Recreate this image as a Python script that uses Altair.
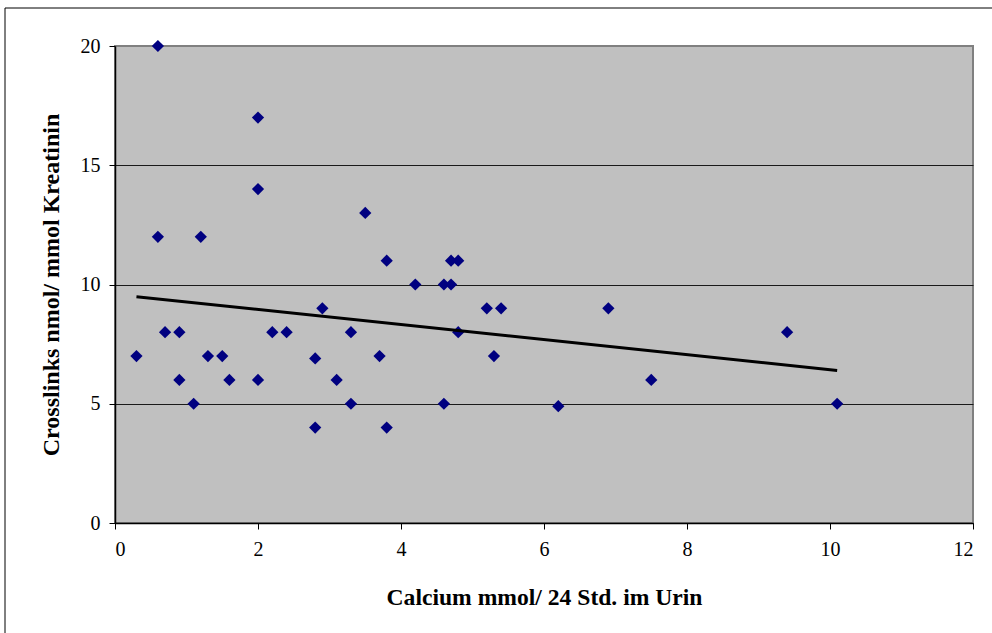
import altair as alt
import pandas as pd

calcium = [0.3, 0.6, 0.6, 0.7, 0.9, 0.9, 1.1, 1.2, 1.3, 1.5, 1.6, 2.0, 2.0, 2.0,
           2.2, 2.4, 2.8, 2.8, 2.9, 3.1, 3.3, 3.3, 3.5, 3.7, 3.8, 3.8, 4.2, 4.6,
           4.6, 4.7, 4.8, 4.7, 4.8, 5.2, 5.4, 5.3, 6.2, 6.9, 7.5, 9.4, 10.1]
crosslinks = [7, 20, 12, 8, 8, 6, 5, 12, 7, 7, 6, 17, 14, 6,
              8, 8, 6.9, 4, 9, 6, 8, 5, 13, 7, 11, 4, 10, 10,
              5, 11, 11, 10, 8, 9, 9, 7, 4.9, 9, 6, 8, 5]
x_ticks = [0, 2, 4, 6, 8, 10, 12]
y_ticks = [0, 5, 10, 15, 20]

df = pd.DataFrame({"x": calcium, "y": crosslinks})

FONT = "Liberation Serif"

xenc = alt.X("x:Q", scale=alt.Scale(domain=[0, 12], nice=False),
             axis=alt.Axis(values=x_ticks, format="d",
                           title="Calcium mmol/ 24 Std. im Urin",
                           titleFontSize=23.6,
                           grid=False, titlePadding=26, labelPadding=10))
yenc = alt.Y("y:Q", scale=alt.Scale(domain=[0, 20], nice=False),
             axis=alt.Axis(values=y_ticks, format="d",
                           title="Crosslinks nmol/ mmol Kreatinin",
                           titleFontSize=24,
                           grid=True, titlePadding=17, labelPadding=9,
                           gridColor=alt.condition(alt.datum.value == 20,
                                                   alt.value("#808080"),
                                                   alt.value("#1a1a1a"))))

base = alt.Chart(df)

frame = alt.Chart(pd.DataFrame({"a": [0]})).mark_rect(
    fillOpacity=0, stroke="black", strokeWidth=1
).encode(x=alt.value(-110), x2=alt.value(900), y=alt.value(-38), y2=alt.value(620))

points = base.mark_point(shape="diamond", filled=True, color="#000080",
                         size=150, opacity=1).encode(x=xenc, y=yenc)

trend = base.transform_regression("x", "y").mark_line(
    color="black", strokeWidth=3).encode(x="x:Q", y="y:Q")

chart = alt.layer(frame, points, trend).properties(
    width=858, height=477,
    autosize=alt.AutoSizeParams(type="none"),
    padding={"left": 115, "top": 46, "right": 19, "bottom": 110},
    background="white",
).configure_view(
    fill="#C0C0C0", stroke="#808080", strokeWidth=2
).configure_axis(
    labelFont=FONT, labelFontSize=20, labelColor="black",
    titleFont=FONT, titleFontWeight="bold", titleColor="black",
    domainColor="black", domainWidth=1.5, tickColor="black", tickSize=6,
    tickWidth=1, gridWidth=1
)

chart.save("out.html", embed_options={"renderer": "svg", "actions": False})
